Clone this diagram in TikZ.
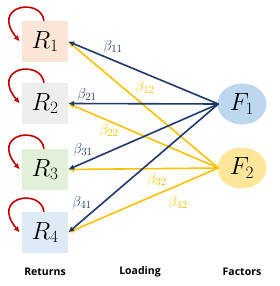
\documentclass[tikz,border=0pt]{standalone}
\usepackage{fontspec}
\setsansfont{Open Sans}
\usetikzlibrary{shapes.geometric,arrows.meta,calc}
\definecolor{navyline}{RGB}{31,56,110}
\definecolor{goldline}{RGB}{255,192,0}
\definecolor{loopred}{RGB}{192,0,0}
\definecolor{rone}{RGB}{251,229,214}
\definecolor{rtwo}{RGB}{237,237,237}
\definecolor{rthree}{RGB}{226,240,217}
\definecolor{rfour}{RGB}{222,235,247}
\definecolor{fone}{RGB}{189,215,238}
\definecolor{ftwo}{RGB}{255,230,153}
\begin{document}
\begin{tikzpicture}[x=1pt,y=-1pt,
  retbox/.style={minimum width=46pt,minimum height=41pt,inner sep=0pt,font=\fontsize{25}{29}\selectfont},
  facnode/.style={ellipse,minimum width=49pt,minimum height=41pt,inner sep=0pt,font=\fontsize{25}{29}\selectfont},
  blueedge/.style={navyline,line width=1.6pt,-{Latex[length=6pt,width=5.5pt]}},
  goldedge/.style={goldline,line width=1.6pt,-{Latex[length=6pt,width=5.5pt]}},
  selfloop/.style={loopred,line width=1.6pt,-{Latex[length=6pt,width=5.5pt]}},
  bluelab/.style={navyline,font=\fontsize{15}{17}\selectfont},
  goldlab/.style={goldline,font=\fontsize{15}{17}\selectfont},
  caption/.style={font=\sffamily\bfseries\fontsize{10.5}{12}\selectfont}]
\useasboundingbox (0,0) rectangle (280,286);
\node[retbox,fill=rone] (r1) at (45,41.5) {$R_1$};
\node[retbox,fill=rtwo] (r2) at (45,103.5) {$R_2$};
\node[retbox,fill=rthree] (r3) at (45,169.5) {$R_3$};
\node[retbox,fill=rfour] (r4) at (45,232.5) {$R_4$};
\node[facnode,fill=fone] (f1) at (242,104) {$F_1$};
\node[facnode,fill=ftwo] (f2) at (242,168) {$F_2$};
\foreach \r in {r1,r2,r3,r4}{
  \draw[selfloop] ([xshift=-1pt]\r.north) .. controls +(-3,-24) and +(-30,-36) .. ([xshift=-2pt]\r.west);
}
\foreach \r in {r1,r2,r3,r4}{
  \draw[goldedge] ([xshift=1pt]f2.west) -- (\r.east);
}
\foreach \r in {r1,r2,r3,r4}{
  \draw[blueedge] ([xshift=1pt]f1.west) -- (\r.east);
}
\node[bluelab] (b11) at (113,47) {$\beta_{11}$};
\node[bluelab] (b21) at (87,95) {$\beta_{21}$};
\node[bluelab] (b31) at (83,150) {$\beta_{31}$};
\node[bluelab] (b41) at (82,203) {$\beta_{41}$};
\node[goldlab] (b12) at (145,88) {$\beta_{12}$};
\node[goldlab] (b22) at (109,131) {$\beta_{22}$};
\node[goldlab] (b32) at (157,180) {$\beta_{32}$};
\node[goldlab] (b42) at (178,203) {$\beta_{42}$};
\node[caption] (cr) at (45,272) {Returns};
\node[caption] (cl) at (140,272) {Loading};
\node[caption] (cf) at (242,272) {Factors};
\end{tikzpicture}
\end{document}
